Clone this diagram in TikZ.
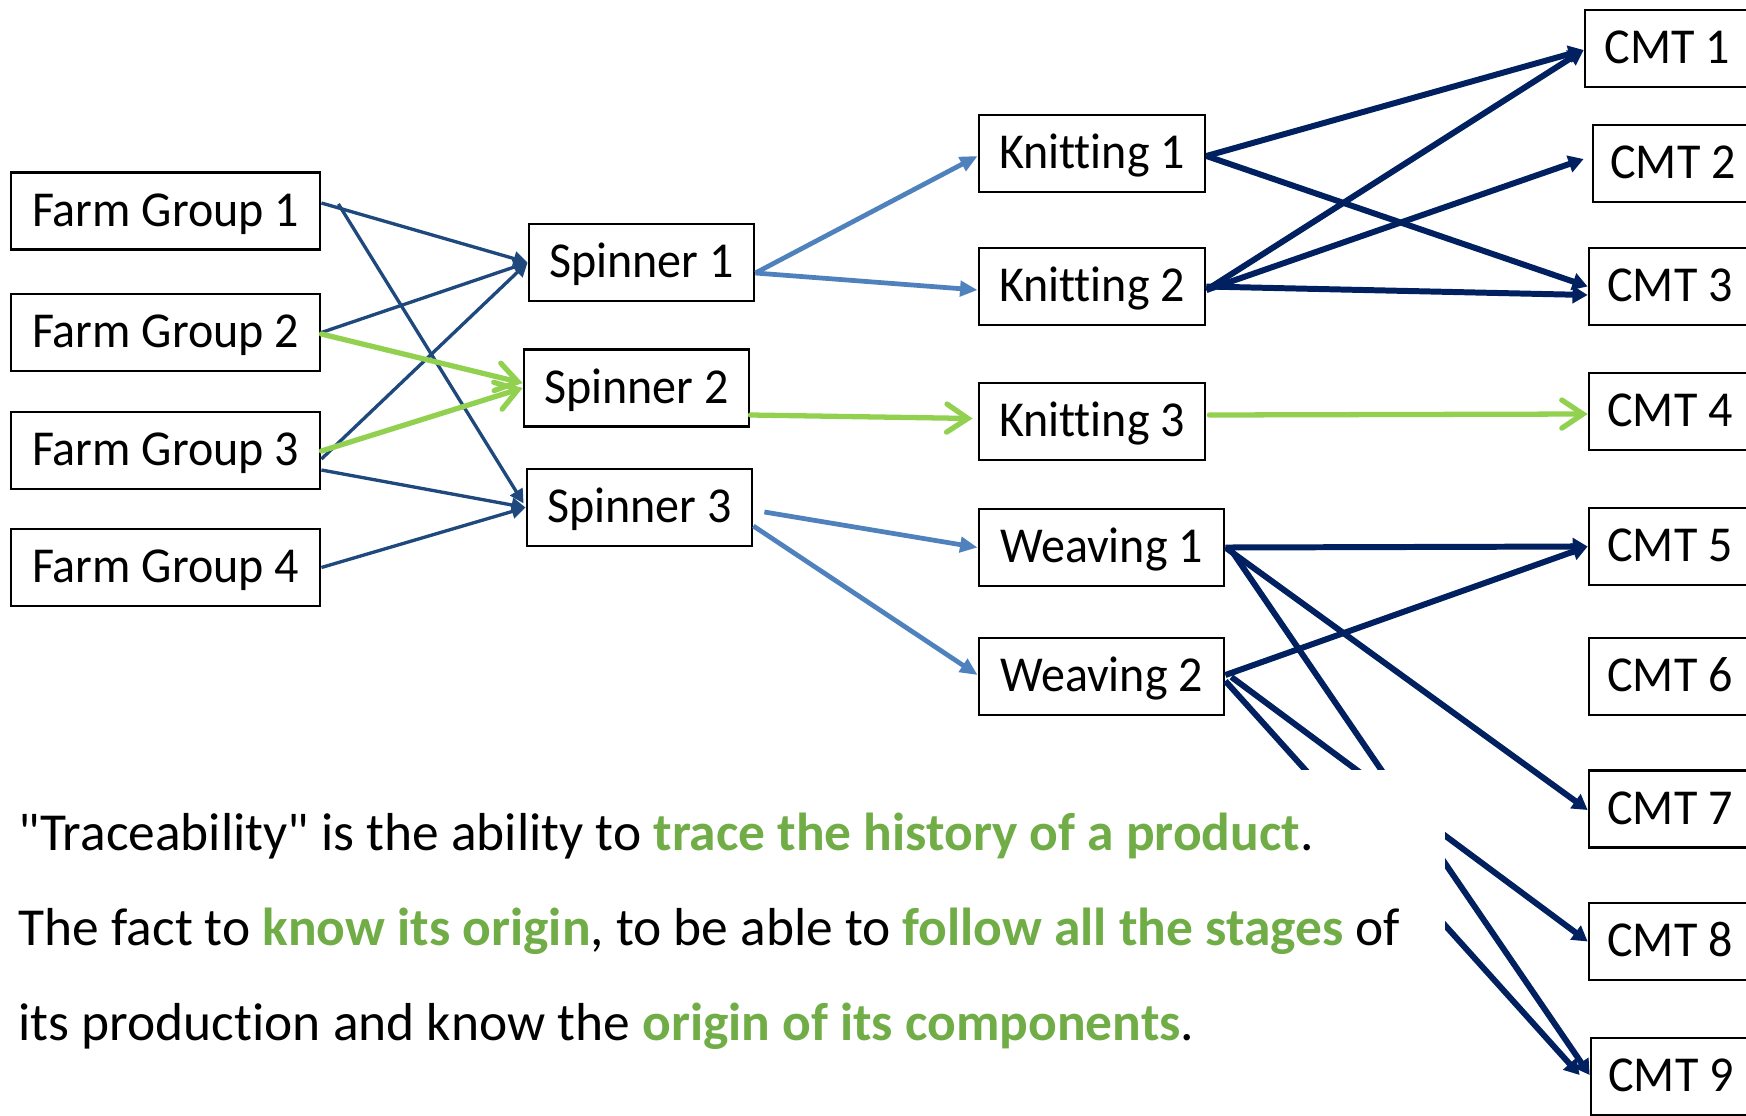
\documentclass[tikz,border=0pt]{standalone}
\usepackage{fontspec}
\setmainfont{Carlito}[Ligatures={TeXOff,CommonOff}]
\newfontfamily\boxfont{Carlito}[Ligatures={TeXOff,CommonOff},FakeStretch=0.955]
\usetikzlibrary{arrows.meta,calc}
\definecolor{farmblue}{RGB}{31,73,125}
\definecolor{lightblue}{RGB}{79,129,189}
\definecolor{greenarrow}{RGB}{146,208,80}
\definecolor{navy}{RGB}{0,32,96}
\definecolor{textgreen}{RGB}{112,173,71}
\newcommand\grn[1]{\textcolor{textgreen}{\textbf{#1}}}
\begin{document}
\begin{tikzpicture}[x=0.01cm,y=-0.01cm,
  box/.style={draw=black,line width=0.75pt,fill=white,minimum height=0.77cm,inner sep=0pt,
    text height=10pt,text depth=1.2pt,font=\boxfont\fontsize{14.3}{16}\selectfont},
  farm/.style={draw=farmblue,line width=0.95pt,-{Triangle[length=4pt,width=4pt]}},
  lblue/.style={draw=lightblue,line width=1.35pt,-{Triangle[length=5pt,width=4.3pt]}},
  garr/.style={draw=greenarrow,line width=1.5pt,line cap=round,-{Straight Barb[length=6pt,width=8pt,line cap=round]}},
  navyarr/.style={draw=navy,line width=1.7pt,-{Triangle[length=4.3pt,width=4.8pt]}},
  para/.style={anchor=base west,inner sep=0pt,font=\fontsize{15.2}{18}\selectfont}
]
\useasboundingbox (0,0) rectangle (1746,1115);
% farm groups
\node[box,minimum width=3.09cm] (fg1) at (165.5,211) {Farm Group 1};
\node[box,minimum width=3.09cm] (fg2) at (165.5,332.5) {Farm Group 2};
\node[box,minimum width=3.09cm] (fg3) at (165.5,450.5) {Farm Group 3};
\node[box,minimum width=3.09cm] (fg4) at (165.5,567.5) {Farm Group 4};
% spinners
\node[box,minimum width=2.25cm] (sp1) at (641.5,262.5) {Spinner 1};
\node[box,minimum width=2.25cm] (sp2) at (636.5,388) {Spinner 2};
\node[box,minimum width=2.25cm] (sp3) at (639.5,507.5) {Spinner 3};
% knitting / weaving
\node[box,minimum width=2.26cm] (kn1) at (1092,153.5) {Knitting 1};
\node[box,minimum width=2.26cm] (kn2) at (1092,286.5) {Knitting 2};
\node[box,minimum width=2.26cm] (kn3) at (1092,421.5) {Knitting 3};
\node[box,minimum width=2.45cm] (we1) at (1101.5,547.5) {Weaving 1};
\node[box,minimum width=2.45cm] (we2) at (1101.5,676.5) {Weaving 2};
% CMT
\node[box,minimum width=1.65cm] (c1) at (1667.5,48.5) {CMT 1};
\node[box,minimum width=1.60cm] (c2) at (1673,163.5) {CMT 2};
\node[box,minimum width=1.62cm] (c3) at (1670,286.5) {CMT 3};
\node[box,minimum width=1.62cm] (c4) at (1670,411.5) {CMT 4};
\node[box,minimum width=1.62cm] (c5) at (1670,546.5) {CMT 5};
\node[box,minimum width=1.62cm] (c6) at (1670,676.5) {CMT 6};
\node[box,minimum width=1.62cm] (c7) at (1670,809) {CMT 7};
\node[box,minimum width=1.62cm] (c8) at (1670,941.5) {CMT 8};
\node[box,minimum width=1.60cm] (c9) at (1671,1076.5) {CMT 9};
% farm -> spinner
\draw[farm] ($(fg1.east)+(0,-8)$) -- (sp1.west);
\draw[farm] ($(fg1.east)+(17,-7)$) -- ($(sp3.west)+(-2,-4)$);
\draw[farm] (fg2.east) -- (sp1.west);
\draw[farm] ($(fg3.east)+(0,8.5)$) -- (sp1.west);
\draw[farm] ($(fg3.east)+(0,19.5)$) -- (sp3.west);
\draw[farm] (fg4.east) -- (sp3.west);
\draw[garr] ($(fg2.east)+(0,1.5)$) -- ($(sp2.west)+(0,-5)$);
\draw[garr] ($(fg3.east)+(0,0.5)$) -- (sp2.west);
% spinner -> knitting/weaving
\draw[lblue] ($(sp1.east)+(0,10.5)$) -- ($(kn1.west)+(0,2.5)$);
\draw[lblue] ($(sp1.east)+(0,10.5)$) -- ($(kn2.west)+(0,3.5)$);
\draw[lblue] ($(sp3.east)+(11,4.5)$) -- (we1.west);
\draw[lblue] ($(sp3.east)+(0,18.5)$) -- ($(we2.west)+(0,-1.5)$);
\draw[garr] ($(sp2.east)+(0,27)$) -- ($(kn3.west)+(-5,-3)$);
% knitting/weaving -> CMT
\draw[garr] ($(kn3.east)+(3,-6.5)$) -- ($(c4.west)+(0,2.5)$);
\draw[navyarr] ($(kn1.east)+(0,2.5)$) -- ($(c1.west)+(0,1.5)$);
\draw[navyarr] ($(kn1.east)+(0,2.5)$) -- (c3.west);
\draw[navyarr] ($(kn2.east)+(0,3.5)$) -- ($(c1.west)+(0,1.5)$);
\draw[navyarr] ($(kn2.east)+(0,3.5)$) -- ($(c2.west)+(-8,-4.5)$);
\draw[navyarr] (kn2.east) -- ($(c3.west)+(0,8.5)$);
\draw[navyarr] (we1.east) -- (c5.west);
\draw[navyarr] (we1.east) -- ($(c7.west)+(0,1)$);
\draw[navyarr] ($(we1.east)+(4,0)$) -- ($(c9.west)+(0,-1.5)$);
\draw[navyarr] ($(we2.east)+(0,-1.5)$) -- (c5.west);
\draw[navyarr] ($(we2.east)+(6,0.5)$) -- (c8.west);
\draw[navyarr] ($(we2.east)+(0,4.5)$) -- ($(c9.west)+(-10,-1.5)$);
% white panel and definition text
\fill[white] (0,770) rectangle (1445,1115);
\node[para] (t1) at (18,850) {"Traceability" is the ability to \grn{trace the history of a product}.};
\node[para] (t2) at (18,945.5) {The fact to \grn{know its origin}, to be able to \grn{follow all the stages} of};
\node[para] (t3) at (18,1040) {its production and know the \grn{origin of its components}.};
\end{tikzpicture}
\end{document}
